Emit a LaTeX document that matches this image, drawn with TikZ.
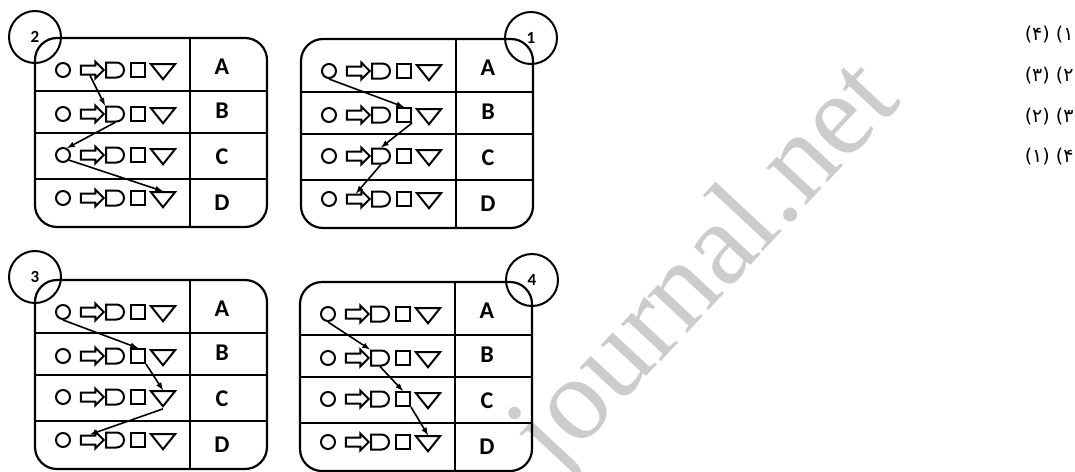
\documentclass[tikz,border=0pt]{standalone}
\usepackage{fontspec}
\TeXXeTstate=1
\newfontfamily\lblfont{Carlito}
\newfontfamily\arabicfont[Script=Arabic]{DejaVu Sans}
\newfontfamily\wmfont{Liberation Serif}
\usetikzlibrary{shapes.geometric,shapes.arrows,shapes.misc}
\tikzset{
  shp/.style={draw, line width=2, inner sep=0},
  circ/.style={shp, circle, minimum size=14},
  barrow/.style={shp, single arrow, minimum height=23, minimum width=15,
    single arrow head extend=4, inner ysep=3.5, inner xsep=0},
  dee/.style={shp, rounded rectangle, rounded rectangle west arc=none,
    minimum width=18, minimum height=15},
  sq/.style={shp, rectangle, minimum size=14},
  tri/.style={shp, isosceles triangle, isosceles triangle stretches,
    shape border rotate=270, minimum width=24, minimum height=15},
  lett/.style={font=\lblfont\bfseries\fontsize{24}{24}\selectfont},
  numb/.style={draw, circle, line width=2, minimum size=52, inner sep=0,
    font=\lblfont\bfseries\fontsize{17}{17}\selectfont},
  link/.style={-latex, line width=1.6},
  opt/.style={anchor=east, font=\arabicfont\fontsize{19}{19}\selectfont},
}
\begin{document}
\begin{tikzpicture}[x=1pt, y=-1pt]
  \useasboundingbox (0,0) rectangle (1075,471);
  % watermark
  \node[text=black!20, font=\wmfont\fontsize{118}{118}\selectfont, rotate=47,
    anchor=base east] (wm) at (905,100) {journal.net};

  % the four panels
  \foreach \pn/\px/\py/\cx/\cy in {2/35/38/0/-1, 1/301/39/230/-1, 3/35/280/0/-3, 4/300/282/232/-2}{
    \begin{scope}[shift={(\px,\py)}]
      \draw[line width=2.2, rounded corners=22] (0,0) rectangle (232,189);
      \draw[line width=1.9] (0,53) -- (232,53) (0,95) -- (232,95) (0,141) -- (232,141);
      \draw[line width=1.5] (155,0) -- (155,189);
      \foreach \r/\sy/\ly in {A/32/29, B/76/73, C/117/119, D/160/165}{
        \node[circ] (p\pn\r-circ) at (28,\sy) {};
        \node[barrow] (p\pn\r-arr) at (55,\sy) {};
        \node[dee] (p\pn\r-dee) at (80,\sy) {};
        \node[sq] (p\pn\r-sq) at (103,\sy) {};
        \node[tri] (p\pn\r-tri) at (128,\sy) {};
        \node[lett] (p\pn\r-let) at (187,\ly) {\r};
      }
      \node[numb] (p\pn-num) at (\cx,\cy) {\pn};
    \end{scope}
  }

  % paths
  \draw[link] (p2A-arr.south) -- (p2B-dee.north west);
  \draw[link] (p2B-dee.south) -- (p2C-circ.60);
  \draw[link] (p2C-circ.-40) -- (p2D-tri.north);

  \draw[link] (p1A-circ.south) -- (p1B-sq.north);
  \draw[link] (p1B-sq.south east) -- (p1C-dee.north);
  \draw[link] (p1C-dee.south) -- (p1D-arr.north);

  \draw[link] (p3A-circ.south) -- (p3B-sq.north);
  \draw[link] (p3B-sq.south east) -- (p3C-tri.north);
  \draw[link] (p3C-tri.south) -- (p3D-arr.north);

  \draw[link] (p4A-circ.south) -- (p4B-dee.north west);
  \draw[link] (p4B-dee.south) -- (p4C-sq.north);
  \draw[link] (p4C-sq.south east) -- (p4D-tri.north);

  % answer options
  \node[opt] (o1) at (1077,35) {\beginR ۱) (۴)\endR};
  \node[opt] (o2) at (1077,76) {\beginR ۲) (۳)\endR};
  \node[opt] (o3) at (1077,117) {\beginR ۳) (۲)\endR};
  \node[opt] (o4) at (1077,157) {\beginR ۴) (۱)\endR};
\end{tikzpicture}
\end{document}
